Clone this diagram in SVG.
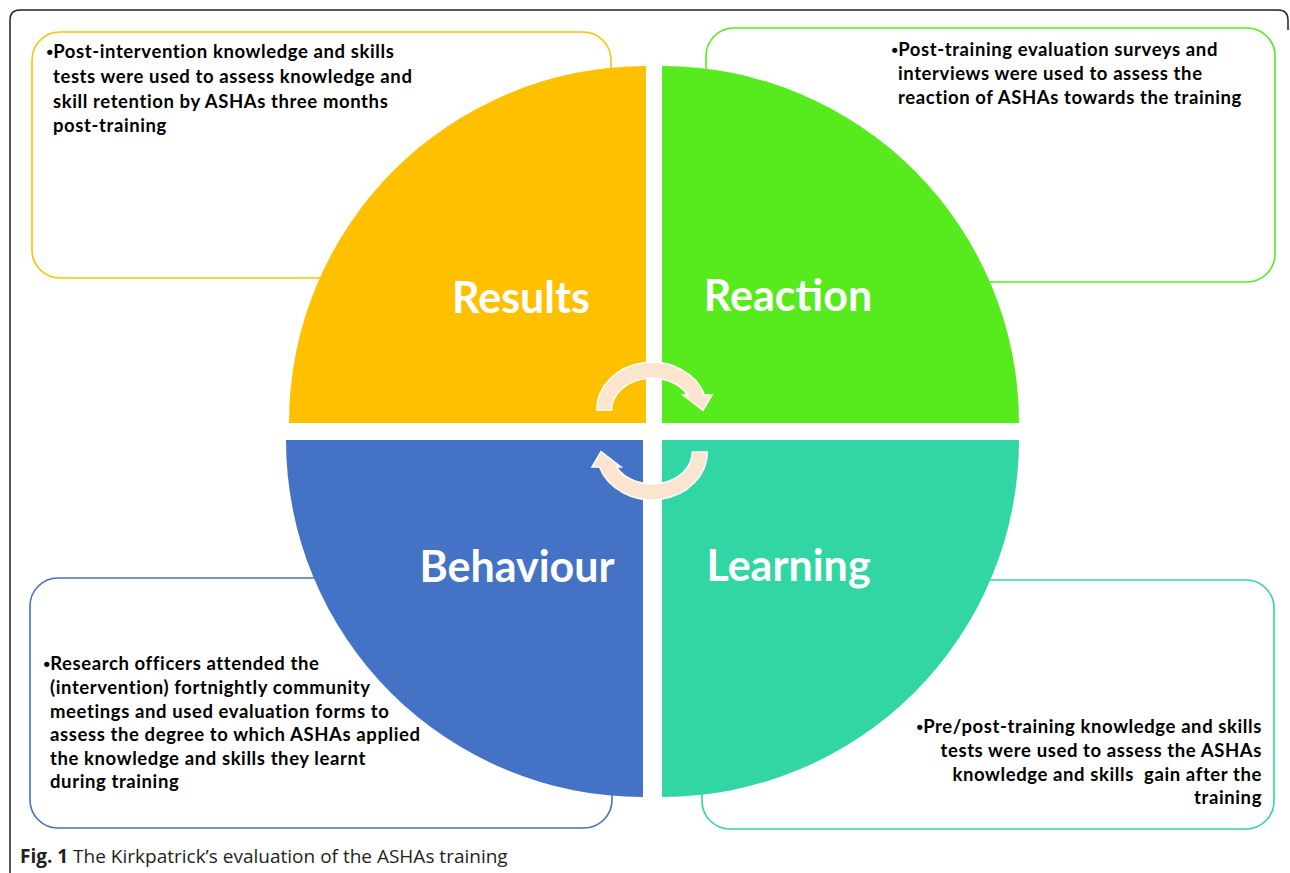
<svg xmlns="http://www.w3.org/2000/svg" width="1290" height="873" viewBox="0 0 1290 873">
<style>
.box{fill:#ffffff;stroke-width:1.6}
.body{font-family:Lato,"Liberation Sans",sans-serif;font-weight:700;font-size:18.5px;letter-spacing:0.6px;fill:#000000;white-space:pre}
.bul{font-family:"Liberation Sans",sans-serif;letter-spacing:0.2px}
.lbl{font-family:Lato,"Liberation Sans",sans-serif;font-weight:700;font-size:43px;fill:#ffffff;text-anchor:middle}
.arrow{fill:#FCE5D0;stroke:#ffffff;stroke-width:1.5;stroke-linejoin:miter}
.cap{font-family:"Open Sans","Liberation Sans",sans-serif;font-size:19px;fill:#231F20}
</style>
<rect width="1290" height="873" fill="#ffffff"/>
<path d="M 10 873 L 10 20 Q 10 10 20 10 L 1278 10 Q 1288 10 1288 20 L 1288 30" fill="none" stroke="#222222" stroke-width="1.5"/>

<g id="results">
<rect class="box" x="32" y="32" width="579" height="246" rx="28" stroke="#FFC000"/>
<path d="M 646 423 L 289 423 A 357 357 0 0 1 646 66 Z" fill="#FFC000"/>
<text class="lbl" x="521" y="313">Results</text>
<text class="body"><tspan x="46.5" y="58"><tspan class="bul">•</tspan>Post-intervention knowledge and skills</tspan><tspan x="53" y="83">tests were used to assess knowledge and</tspan><tspan x="53" y="107.5">skill retention by ASHAs three months</tspan><tspan x="53" y="132">post-training</tspan></text>
</g>

<g id="reaction">
<rect class="box" x="706" y="28" width="569" height="254" rx="28" stroke="#57EA1C"/>
<path d="M 662 423 L 662 66 A 357 357 0 0 1 1019 423 Z" fill="#57EA1C"/>
<text class="lbl" x="788" y="311">Reaction</text>
<text class="body"><tspan x="891.5" y="56"><tspan class="bul">•</tspan>Post-training evaluation surveys and</tspan><tspan x="898" y="80">interviews were used to assess the</tspan><tspan x="898" y="104">reaction of ASHAs towards the training</tspan></text>
</g>

<g id="behaviour">
<rect class="box" x="30" y="578" width="582" height="250" rx="28" stroke="#4472C4"/>
<path d="M 643 440 L 643 797 A 357 357 0 0 1 286 440 Z" fill="#4472C4"/>
<text class="lbl" x="517" y="582">Behaviour</text>
<text class="body"><tspan x="43.5" y="670"><tspan class="bul">•</tspan>Research officers attended the</tspan><tspan x="50" y="694">(intervention) fortnightly community</tspan><tspan x="50" y="717.5">meetings and used evaluation forms to</tspan><tspan x="50" y="741">assess the degree to which ASHAs applied</tspan><tspan x="50" y="764.5">the knowledge and skills they learnt</tspan><tspan x="50" y="788">during training</tspan></text>
</g>

<g id="learning">
<rect class="box" x="702" y="580" width="572" height="249" rx="28" stroke="#31D6A4"/>
<path d="M 662 440 L 1019 440 A 357 357 0 0 1 662 797 Z" fill="#31D6A4"/>
<text class="lbl" x="788.5" y="581">Learning</text>
<text class="body" text-anchor="end"><tspan x="1262" y="733"><tspan class="bul">•</tspan>Pre/post-training knowledge and skills</tspan><tspan x="1262" y="757">tests were used to assess the ASHAs</tspan><tspan x="1262" y="780.5">knowledge and skills  gain after the</tspan><tspan x="1262" y="804">training</tspan></text>
</g>

<g id="connectors">
<path id="arrow-top" class="arrow" d="M 596.7 410 A 55.3 48 0 0 1 704.5 395 L 712 395 L 703 410.5 L 683 395 L 687.6 395 A 40.3 32 0 0 0 611.7 410 Z"/>
<path id="arrow-bottom" class="arrow" transform="rotate(180 652 431)" d="M 596.7 410 A 55.3 48 0 0 1 704.5 395 L 712 395 L 703 410.5 L 683 395 L 687.6 395 A 40.3 32 0 0 0 611.7 410 Z"/>
</g>

<text class="cap" x="20" y="863"><tspan font-weight="700">Fig. 1</tspan> The Kirkpatrick’s evaluation of the ASHAs training</text>
</svg>
